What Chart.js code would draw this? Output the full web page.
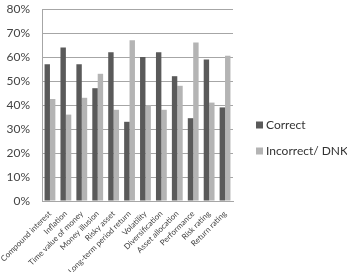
<!DOCTYPE html>
<html>
<head>
<meta charset="utf-8">
<script src="https://cdn.jsdelivr.net/npm/chart.js@4/dist/chart.umd.min.js"></script>
<style>
  html, body { margin: 0; padding: 0; background: #fff; }
  #wrap { width: 347px; height: 272px; }
</style>
</head>
<body>
<div id="wrap"><canvas id="myChart" width="347" height="272"></canvas></div>
<script>
var categories = ['Compound interest', 'Inflation', 'Time value of money', 'Money illusion', 'Risky asset',
  'Long-term period return', 'Volatility', 'Diversification', 'Asset allocation', 'Performance',
  'Risk rating', 'Return rating'];
var correct = [57, 64, 57, 47, 62, 33, 60, 62, 52, 34.5, 59, 39];
var incorrect = [42.5, 36, 43, 53, 38, 67, 40, 38, 48, 66, 41, 60.5];
var yTicks = [0, 10, 20, 30, 40, 50, 60, 70, 80];

// legend drawn at the right of the plot, like the original
var sideLegend = {
  id: 'sideLegend',
  afterDraw: function (chart) {
    var c = chart.ctx;
    var x = chart.chartArea.right + 23;
    var y = 125;
    c.save();
    c.font = '12px Lato';
    c.textBaseline = 'middle';
    chart.data.datasets.forEach(function (ds, i) {
      var yy = y + i * 26;
      c.fillStyle = ds.backgroundColor;
      c.fillRect(x, yy - 3.5, 7, 7);
      c.fillStyle = '#333';
      c.fillText(ds.label, x + 10, yy);
    });
    c.restore();
  }
};

var ctx = document.getElementById('myChart').getContext('2d');
new Chart(ctx, {
  type: 'bar',
  data: {
    labels: categories,
    datasets: [{
      label: 'Correct',
      data: correct,
      backgroundColor: '#5a5a5a'
    }, {
      label: 'Incorrect/ DNK',
      data: incorrect,
      backgroundColor: '#b4b4b4'
    }]
  },
  plugins: [sideLegend],
  options: {
    responsive: false,
    animation: false,
    layout: { padding: { top: 0, left: 0, right: 114, bottom: 0 } },
    datasets: { bar: { categoryPercentage: 0.68, barPercentage: 1 } },
    plugins: {
      tooltip: { enabled: false },
      legend: { display: false }
    },
    scales: {
      x: {
        grid: { display: false },
        border: { color: '#a6a6a6' },
        afterFit: function (axis) { axis.height = 71; },
        ticks: {
          minRotation: 45,
          maxRotation: 45,
          autoSkip: false,
          padding: 0,
          color: '#444',
          font: { family: 'Lato', size: 8 }
        }
      },
      y: {
        min: 0,
        max: 80,
        afterBuildTicks: function (axis) {
          axis.ticks = yTicks.map(function (v) { return { value: v }; });
        },
        afterFit: function (axis) {
          axis.width = 42;
          axis.paddingTop = 9;
        },
        grid: { color: '#a6a6a6', drawTicks: false },
        border: { color: '#a6a6a6' },
        ticks: {
          padding: 12,
          color: '#444',
          font: { family: 'Lato', size: 12 },
          callback: function (v) { return v + '%'; }
        }
      }
    }
  }
});
</script>
</body>
</html>
